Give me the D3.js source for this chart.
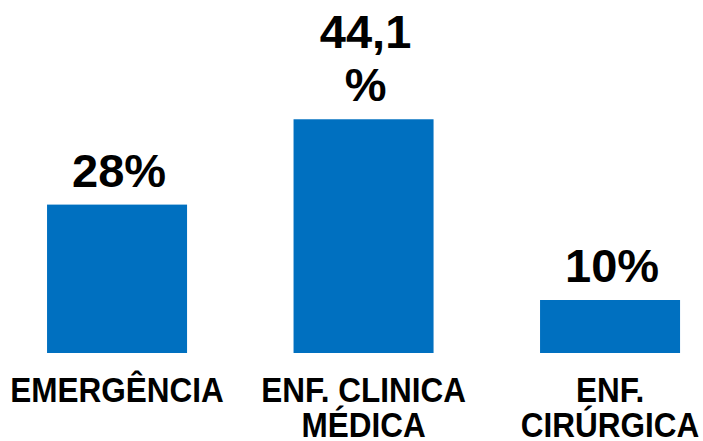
<!DOCTYPE html>
<html><head><meta charset="utf-8">
<script src="https://cdn.jsdelivr.net/npm/d3@7"></script>
<style>html,body{margin:0;padding:0;background:#fff;}</style>
</head><body>
<svg id="c" width="703" height="441"></svg>
<script>
const categories = [["EMERGÊNCIA"], ["ENF. CLINICA", "MÉDICA"], ["ENF.", "CIRÚRGICA"]];
const values = [28, 44.1, 10];
const valueLabels = [["28%"], ["44,1", "%"], ["10%"]];

const svg = d3.select("#c");
const x = d3.scaleBand().domain(d3.range(values.length)).range([-6.2, 733.3]).paddingInner(0.432).paddingOuter(0.216);
const y = d3.scaleLinear().domain([0, 10]).range([353, 300]);

svg.selectAll("rect.bar").data(values).join("rect")
  .attr("class", "bar")
  .attr("x", (d, i) => x(i))
  .attr("width", x.bandwidth())
  .attr("y", d => y(d))
  .attr("height", d => y(0) - y(d))
  .attr("fill", "#0070C0");

const valLineH = 53;
svg.selectAll("text.val").data(values).join("text")
  .attr("class", "val")
  .attr("text-anchor", "middle")
  .attr("font-family", "Liberation Sans, Arial, sans-serif")
  .attr("font-weight", "bold")
  .attr("font-size", 47)
  .attr("fill", "#000")
  .each(function(d, i) {
    const lines = valueLabels[i];
    const base = y(d) - 18 - (lines.length - 1) * valLineH;
    d3.select(this).selectAll("tspan").data(lines).join("tspan")
      .attr("x", x(i) + x.bandwidth() / 2 + 2)
      .attr("y", (l, j) => base + j * valLineH)
      .text(l => l);
  });

const catLineH = 35;
svg.selectAll("text.cat").data(categories).join("text")
  .attr("class", "cat")
  .attr("text-anchor", "middle")
  .attr("font-family", "Liberation Sans, Arial, sans-serif")
  .attr("font-weight", "bold")
  .attr("font-size", 35)
  .attr("fill", "#000")
  .attr("transform", (d, i) => `translate(${x(i) + x.bandwidth() / 2},0) scale(0.9,1)`)
  .each(function(lines, i) {
    d3.select(this).selectAll("tspan").data(lines).join("tspan")
      .attr("x", 0)
      .attr("y", (l, j) => 402 + j * catLineH)
      .text(l => l);
  });
</script>
</body></html>
